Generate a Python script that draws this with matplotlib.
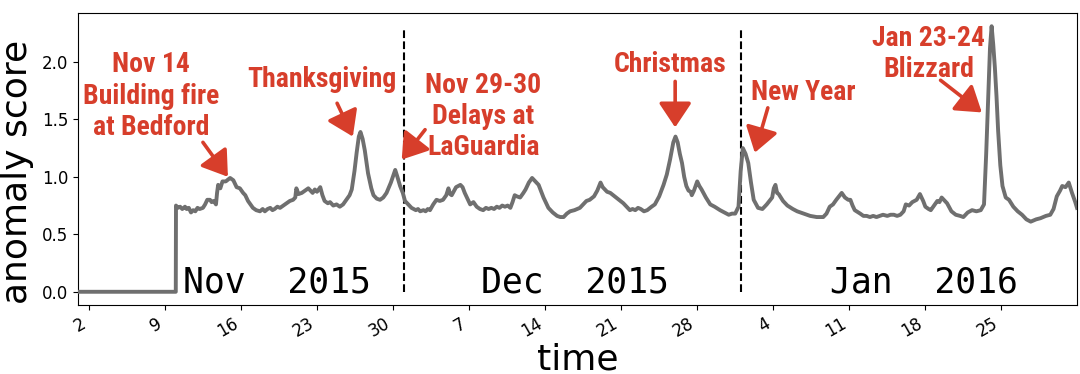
import numpy as np
import matplotlib
matplotlib.use("Agg")
import matplotlib.pyplot as plt
import matplotlib.dates as mdates
from matplotlib import font_manager as fm
from matplotlib.ticker import FuncFormatter

# ---------------- data (days since 2015-11-01 00:00, anomaly score) ----------------
days = [0, 9.0, 9.02, 9.2, 9.4, 9.6, 9.85, 10.0, 10.2, 10.4, 10.6, 10.8, 11.0, 11.2, 11.5, 11.7,
        11.9, 12.15, 12.3, 12.5, 12.7, 12.8, 12.9, 13.1,
        13.3, 13.6, 14.0, 14.3, 14.6, 14.9, 15.2, 15.4, 15.65, 16.1, 16.4, 16.75, 17.0, 17.2,
        17.45, 17.7, 17.9, 18.1, 18.35, 18.6, 18.9, 19.2, 19.5, 19.8, 20.0, 20.1, 20.3, 20.6,
        20.9, 21.2, 21.4, 21.6, 21.8, 22.0, 22.3, 22.5, 22.7,
        23.0, 23.2, 23.5, 23.8, 24.1, 24.4, 24.7, 25.0, 25.2, 25.45, 25.65, 25.85, 26.0, 26.2,
        26.4, 26.7, 27.0, 27.2, 27.5, 27.8, 28.1, 28.4, 28.8, 29.2, 29.4, 29.65, 29.9, 30.1,
        30.4, 30.7, 31.1, 31.3, 31.5, 31.8, 32.0, 32.2, 32.4, 32.7, 33.0, 33.3, 33.6, 33.9,
        34.1, 34.25, 34.4, 34.8, 35.2, 35.4, 35.6, 35.85, 36.1, 36.4, 36.7, 37.0, 37.3, 37.55,
        37.8, 38.05, 38.3, 38.55, 38.8, 39.05, 39.3, 39.55, 39.8, 40.0,
        40.2, 40.4, 40.7, 41.0, 41.2, 41.5, 41.8, 42.1, 42.4, 42.6, 42.85, 43.1, 43.3, 43.7,
        44.1, 44.4, 44.7, 45.0, 45.3, 45.7, 46.2, 46.5, 46.8, 47.1, 47.5, 47.8, 48.1, 48.3,
        48.7, 49.0, 49.4, 49.8, 50.2, 50.5, 50.8, 51.05, 51.3, 51.55, 51.8, 52.1, 52.4, 52.8,
        53.1, 53.5, 53.9, 54.2, 54.5, 54.8, 55.0, 55.2, 55.4, 55.6, 55.8, 56.0, 56.2, 56.4,
        56.5, 56.7, 57.0, 57.2, 57.4, 57.8, 58.2, 58.6, 59.1, 59.5, 59.9, 60.2, 60.5, 60.8,
        61.0, 61.2, 61.45, 61.7, 61.95, 62.2, 62.6, 63.0, 63.4, 63.9, 64.05, 64.2, 64.35,
        64.5, 64.9, 65.3, 65.8, 66.2, 66.8, 67.4, 68.0, 68.6, 68.9, 69.2, 69.5, 69.8, 70.3,
        70.6, 70.9, 71.1, 71.3, 71.5, 72.0, 72.3, 72.6, 72.9, 73.2, 73.5, 73.8, 74.1, 74.5,
        74.8, 75.1, 75.4, 75.7, 76.0, 76.2, 76.5, 76.8, 77.2, 77.5, 77.8, 78.0, 78.3, 78.5,
        78.8, 79.1, 79.3, 79.5, 79.8, 80.0, 80.4, 80.8, 81.2, 81.5, 81.9, 82.3, 82.7, 83.1,
        83.4, 83.6, 83.75, 83.95, 84.1, 84.25, 84.4, 84.55, 84.7, 84.9, 85.1, 85.4, 85.7,
        86.1, 86.5, 86.9, 87.3, 87.7, 88.2, 88.6, 89.1, 89.5, 89.8, 90.1, 90.4, 90.6, 90.9,
        91.2, 91.5, 91.8, 91.96]

scores = [0.0, 0.0, 0.75, 0.73, 0.74, 0.72, 0.74, 0.72, 0.73, 0.69, 0.71, 0.70, 0.73, 0.72, 0.73, 0.76,
          0.80, 0.80, 0.78, 0.79, 0.76, 0.86, 0.93, 0.90,
          0.96, 0.96, 0.99, 0.97, 0.91, 0.90, 0.86, 0.84, 0.79, 0.73, 0.71, 0.70, 0.72, 0.70,
          0.72, 0.73, 0.71, 0.72, 0.74, 0.73, 0.75, 0.77, 0.79, 0.80, 0.82, 0.90, 0.85, 0.86,
          0.88, 0.90, 0.88, 0.86, 0.89, 0.87, 0.91, 0.84, 0.79,
          0.77, 0.78, 0.75, 0.76, 0.74, 0.76, 0.80, 0.84, 0.89, 1.05, 1.21, 1.35, 1.39, 1.33,
          1.23, 1.03, 0.90, 0.84, 0.81, 0.80, 0.82, 0.86, 0.95, 1.06, 1.00, 0.92, 0.86, 0.79,
          0.76, 0.73, 0.71, 0.72, 0.70, 0.71, 0.70, 0.72, 0.71, 0.76, 0.80, 0.79, 0.80, 0.84,
          0.90, 0.85, 0.84, 0.91, 0.93, 0.91, 0.86, 0.81, 0.76, 0.78, 0.74, 0.72, 0.71, 0.73,
          0.72, 0.73, 0.72, 0.74, 0.73, 0.75, 0.74, 0.75, 0.73, 0.78,
          0.84, 0.83, 0.82, 0.86, 0.89, 0.95, 0.99, 0.96, 0.93, 0.88, 0.82, 0.77, 0.73, 0.69,
          0.66, 0.65, 0.65, 0.68, 0.70, 0.71, 0.73, 0.76, 0.79, 0.80, 0.83, 0.88, 0.95, 0.91,
          0.87, 0.86, 0.83, 0.80, 0.77, 0.74, 0.71, 0.72, 0.71, 0.73, 0.72, 0.70, 0.71, 0.74,
          0.76, 0.83, 0.93, 1.02, 1.15, 1.30, 1.35, 1.30, 1.20, 1.12, 1.00, 0.92, 0.88, 0.87,
          0.84, 0.88, 0.96, 0.92, 0.89, 0.82, 0.76, 0.74, 0.71, 0.69, 0.67, 0.68, 0.68, 0.74,
          1.05, 1.25, 1.20, 1.12, 0.95, 0.80, 0.73, 0.72, 0.76, 0.82, 0.90, 0.93, 0.86,
          0.85, 0.79, 0.75, 0.72, 0.70, 0.68, 0.66, 0.65, 0.65, 0.68, 0.74, 0.76, 0.80, 0.86,
          0.82, 0.80, 0.80, 0.75, 0.71, 0.68, 0.66, 0.66, 0.65, 0.66, 0.65, 0.66, 0.67, 0.66,
          0.67, 0.67, 0.66, 0.67, 0.70, 0.76, 0.75, 0.78, 0.80, 0.85, 0.79, 0.74, 0.72, 0.71,
          0.75, 0.79, 0.78, 0.82, 0.79, 0.77, 0.70, 0.67, 0.66, 0.65, 0.69, 0.71, 0.70, 0.71,
          0.76, 1.20, 1.60, 2.12, 2.31, 2.15, 1.95, 1.70, 1.40, 1.10, 0.92, 0.82, 0.80,
          0.74, 0.70, 0.67, 0.63, 0.61, 0.63, 0.64, 0.66, 0.67, 0.72, 0.83, 0.88, 0.92, 0.91,
          0.95, 0.86, 0.78, 0.73]

month_labels = ["Nov  2015", "Dec  2015", "Jan  2016"]
month_label_days = [18.3, 45.75, 77.9]
month_boundaries = [30.0, 61.0]

events = ["Nov 14\nBuilding fire\nat Bedford", "Thanksgiving", "Nov 29-30\nDelays at\nLaGuardia",
          "Christmas", "New Year", "Jan 23-24\nBlizzard"]
# (x in days, y of the baseline of the last line)
event_text_pos = [(6.72, 1.365), (22.47, 1.78), (37.3, 1.19), (54.5, 1.91), (66.8, 1.67), (78.3, 1.87)]
event_arrow_tail = [(11.5, 1.30), (23.85, 1.64), (31.95, 1.41), (54.97, 1.83), (63.5, 1.60), (79.4, 1.84)]
event_arrow_tip = [(13.8, 1.00), (25.3, 1.35), (29.8, 1.15), (54.97, 1.43), (62.3, 1.21), (83.2, 1.56)]

# ---------------- helpers ----------------
start = np.datetime64("2015-11-01T00:00")


def to_time(d):
    return start + np.timedelta64(int(round(d * 24 * 60)), "m")


def to_num(d):
    return mdates.date2num(to_time(d))


times = np.array([to_time(d) for d in days])

RED = "#d73e2b"
GRAY = "#6f6f6f"

# pick a narrow bold font for the hand-lettered annotations if one is present
ann_font = None
names = {f.name for f in fm.fontManager.ttflist}
for fam in ["Roboto Condensed", "Liberation Sans Narrow", "Open Sans Condensed"]:
    if fam in names:
        ann_font = fm.FontProperties(family=fam, weight="bold")
        break
if ann_font is None:
    cands = [f for f in fm.fontManager.ttflist
             if f.name == "DejaVu Sans" and "Condensed" in f.fname and "Bold" in f.fname
             and "Oblique" not in f.fname]
    if cands:
        ann_font = fm.FontProperties(fname=cands[0].fname)
    else:
        ann_font = fm.FontProperties(family="Roboto", weight="bold")

# ---------------- figure ----------------
fig = plt.figure(figsize=(10.8, 3.74), dpi=100)
ax = fig.add_axes([78 / 1080, 69 / 374, 999 / 1080, 292 / 374])

ax.plot(times, scores, color=GRAY, lw=2.8, solid_joinstyle="round", zorder=3)

ax.set_xlim(to_time(0), to_time(91.96))
ax.set_ylim(-0.115, 2.425)
ax.set_yticks([0.0, 0.5, 1.0, 1.5, 2.0])
ax.yaxis.set_major_formatter(FuncFormatter(lambda v, p: f"{v:.1f}"))

ax.xaxis.set_major_locator(mdates.WeekdayLocator(byweekday=mdates.MO))
ax.xaxis.set_major_formatter(FuncFormatter(lambda x, p: str(mdates.num2date(x).day)))
ax.tick_params(axis="both", labelsize=12)
ax.tick_params(axis="x", labelrotation=30)
plt.setp(ax.get_xticklabels(), ha="right")

for d in month_boundaries:
    ax.plot([to_time(d), to_time(d)], [0.0, 2.28], color="black", ls="--", lw=1.5, zorder=2)

for lab, d in zip(month_labels, month_label_days):
    ax.text(to_num(d), -0.005, lab, family="DejaVu Sans Mono", fontsize=25,
            ha="center", va="baseline", color="black", zorder=4)

ax.set_ylabel("anomaly score", fontsize=26)
ax.yaxis.set_label_coords(-0.044, 0.455)
ax.set_xlabel("time", fontsize=26, va="top")
ax.xaxis.set_label_coords(0.5, -0.128)

# annotation texts, fitted to the measured width of "Thanksgiving" (~149 px)
texts = []
for txt, (dx, vy) in zip(events, event_text_pos):
    t = ax.text(to_num(dx), vy, txt, fontproperties=ann_font, fontsize=20, color=RED,
                ha="center", va="baseline", multialignment="center", linespacing=1.2,
                zorder=5)
    texts.append(t)
fig.canvas.draw()
w = texts[1].get_window_extent().width
scale = 149.0 / w if w > 0 else 1.0
for t in texts:
    t.set_fontsize(20 * scale)

for (tx, ty), (hx, hy) in zip(event_arrow_tail, event_arrow_tip):
    ax.annotate("", xy=(to_num(hx), hy), xytext=(to_num(tx), ty),
                arrowprops=dict(arrowstyle="-|>,head_length=0.75,head_width=0.5",
                                color=RED, lw=2.6, shrinkA=0, shrinkB=0,
                                mutation_scale=20), zorder=5)

fig.savefig("out.png", dpi=100)
